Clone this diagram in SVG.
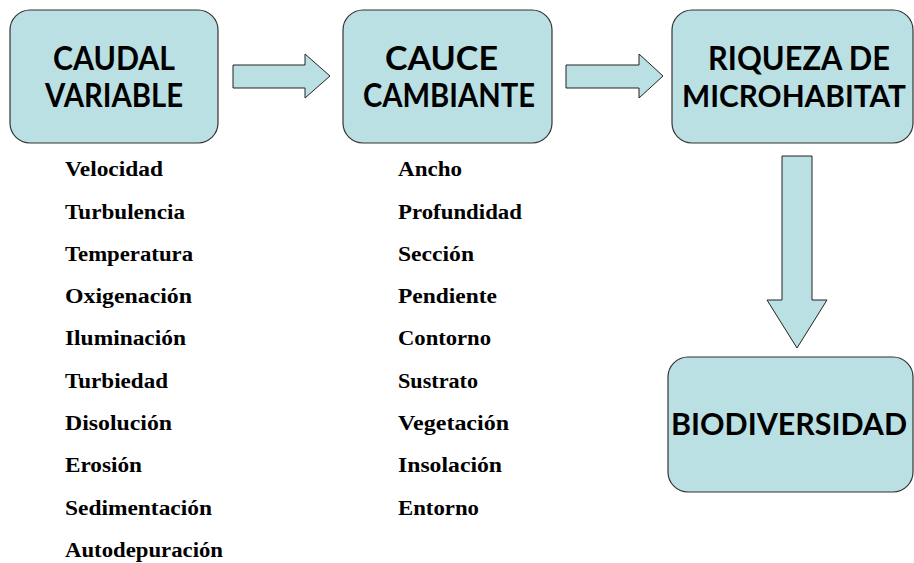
<svg xmlns="http://www.w3.org/2000/svg" width="914" height="563" viewBox="0 0 914 563">
<style>
.box{fill:#BBE0E3;stroke:#333;stroke-width:1.2}
.arr{fill:#BBE0E3;stroke:#222;stroke-width:1}
.t{font-family:Lato,"Open Sans",sans-serif;font-weight:700;font-size:32px;fill:#000}
.s{font-size:30px}
.l{font-family:"Liberation Serif",serif;font-weight:700;font-size:20px;fill:#000}
</style>
<rect width="914" height="563" fill="#fff"/>
<g id="connectors">
<path class="arr" d="M233,65 H305 V54 L330,76 L305,98 V88 H233 Z"/>
<path class="arr" d="M566,65 H639 V54 L663,76 L639,98 V88 H566 Z"/>
<path class="arr" d="M782,156 H812 V300 H827 L797,348 L767,300 H782 Z"/>
</g>
<g id="caudal">
<rect class="box" x="10" y="10" width="208" height="133" rx="20"/>
<text class="t" x="53" y="70" textLength="122" lengthAdjust="spacingAndGlyphs">CAUDAL</text>
<text class="t" x="45" y="107" textLength="138" lengthAdjust="spacingAndGlyphs">VARIABLE</text>
</g>
<g id="cauce">
<rect class="box" x="343" y="10" width="209" height="133" rx="20"/>
<text class="t" x="385" y="70" textLength="113" lengthAdjust="spacingAndGlyphs">CAUCE</text>
<text class="t" x="363" y="107" textLength="172" lengthAdjust="spacingAndGlyphs">CAMBIANTE</text>
</g>
<g id="riqueza">
<rect class="box" x="672" y="10" width="241" height="133" rx="20"/>
<text class="t" x="708" y="70" textLength="182" lengthAdjust="spacingAndGlyphs">RIQUEZA DE</text>
<text class="t s" x="682" y="107" textLength="224" lengthAdjust="spacingAndGlyphs">MICROHABITAT</text>
</g>
<g id="biodiversidad">
<rect class="box" x="668" y="357" width="245" height="135" rx="20"/>
<text class="t s" x="671" y="435" textLength="236" lengthAdjust="spacingAndGlyphs">BIODIVERSIDAD</text>
</g>
<g id="lista-caudal">
<text class="l" x="65" y="176" textLength="98" lengthAdjust="spacingAndGlyphs">Velocidad</text>
<text class="l" x="65" y="218.5" textLength="120" lengthAdjust="spacingAndGlyphs">Turbulencia</text>
<text class="l" x="65" y="261" textLength="128" lengthAdjust="spacingAndGlyphs">Temperatura</text>
<text class="l" x="65" y="303" textLength="127" lengthAdjust="spacingAndGlyphs">Oxigenación</text>
<text class="l" x="65" y="345" textLength="121" lengthAdjust="spacingAndGlyphs">Iluminación</text>
<text class="l" x="65" y="387.5" textLength="103" lengthAdjust="spacingAndGlyphs">Turbiedad</text>
<text class="l" x="65" y="430" textLength="107" lengthAdjust="spacingAndGlyphs">Disolución</text>
<text class="l" x="65" y="472" textLength="77" lengthAdjust="spacingAndGlyphs">Erosión</text>
<text class="l" x="65" y="514.5" textLength="147" lengthAdjust="spacingAndGlyphs">Sedimentación</text>
<text class="l" x="65" y="557" textLength="158" lengthAdjust="spacingAndGlyphs">Autodepuración</text>
</g>
<g id="lista-cauce">
<text class="l" x="398" y="176" textLength="64" lengthAdjust="spacingAndGlyphs">Ancho</text>
<text class="l" x="398" y="218.5" textLength="124" lengthAdjust="spacingAndGlyphs">Profundidad</text>
<text class="l" x="398" y="261" textLength="76" lengthAdjust="spacingAndGlyphs">Sección</text>
<text class="l" x="398" y="303" textLength="99" lengthAdjust="spacingAndGlyphs">Pendiente</text>
<text class="l" x="398" y="345" textLength="93" lengthAdjust="spacingAndGlyphs">Contorno</text>
<text class="l" x="398" y="387.5" textLength="80" lengthAdjust="spacingAndGlyphs">Sustrato</text>
<text class="l" x="398" y="430" textLength="111" lengthAdjust="spacingAndGlyphs">Vegetación</text>
<text class="l" x="398" y="472" textLength="104" lengthAdjust="spacingAndGlyphs">Insolación</text>
<text class="l" x="398" y="514.5" textLength="81" lengthAdjust="spacingAndGlyphs">Entorno</text>
</g>
</svg>
